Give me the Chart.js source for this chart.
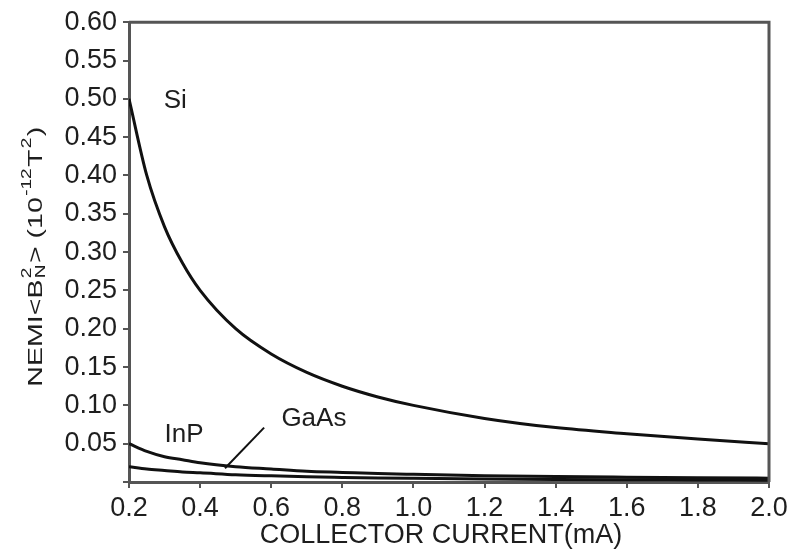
<!DOCTYPE html>
<html>
<head>
<meta charset="utf-8">
<script src="https://cdn.jsdelivr.net/npm/chart.js@4"></script>
<style>
  html, body { margin: 0; padding: 0; background: #fff; }
  #wrap { width: 792px; height: 556px; }
</style>
</head>
<body>
<div id="wrap"><canvas id="nemiChart" width="792" height="556"></canvas></div>
<script>
// collector current (mA) and NEMI values (10^-12 T^2)
const current = [0.2, 0.25, 0.3, 0.35, 0.4, 0.5, 0.6, 0.7, 0.8, 0.9, 1.0, 1.2, 1.4, 1.6, 1.8, 2.0];
const siVals = [0.500, 0.400, 0.333, 0.286, 0.250, 0.200, 0.167, 0.143, 0.125, 0.111, 0.100, 0.083, 0.071, 0.063, 0.056, 0.050];
const inpVals = [0.050, 0.040, 0.033, 0.029, 0.025, 0.020, 0.017, 0.014, 0.0125, 0.011, 0.010, 0.0083, 0.0071, 0.0063, 0.0056, 0.0050];
const gaasVals = [0.020, 0.017, 0.015, 0.013, 0.012, 0.0095, 0.0080, 0.0068, 0.0060, 0.0053, 0.0048, 0.0040, 0.0034, 0.0030, 0.0027, 0.0024];
const seriesNames = ['Si', 'InP', 'GaAs'];
const xTitle = 'COLLECTOR CURRENT(mA)';

const FONT = '"Liberation Sans", Arial, Helvetica, sans-serif';
const AXIS = '#555';
const INK = '#1e1e1e';

function pts(vals) {
    return current.map((c, i) => ({ x: c, y: vals[i] }));
}

function lineSet(label, vals) {
    return {
        label: label,
        data: pts(vals),
        borderColor: '#111',
        borderWidth: 3,
        pointRadius: 0,
        fill: false,
        cubicInterpolationMode: 'monotone'
    };
}

// text labels, pointer line, box and axis titles
const decorations = {
    id: 'decorations',
    afterDraw(chart) {
        const ctx = chart.ctx;
        const xs = chart.scales.x, ys = chart.scales.y;
        const a = chart.chartArea;
        ctx.save();

        // top and right frame
        ctx.strokeStyle = AXIS;
        ctx.lineWidth = 3;
        ctx.beginPath();
        ctx.moveTo(a.left, a.top);
        ctx.lineTo(a.right, a.top);
        ctx.lineTo(a.right, a.bottom);
        ctx.stroke();

        // curve labels
        ctx.fillStyle = INK;
        ctx.font = '26px ' + FONT;
        ctx.textAlign = 'center';
        ctx.textBaseline = 'middle';
        const spots = [[0.33, 0.497], [0.355, 0.061], [0.72, 0.083]];
        seriesNames.forEach((n, i) => {
            ctx.fillText(n, xs.getPixelForValue(spots[i][0]), ys.getPixelForValue(spots[i][1]));
        });

        // pointer from GaAs label to its curve
        ctx.strokeStyle = '#111';
        ctx.lineWidth = 2;
        ctx.beginPath();
        ctx.moveTo(xs.getPixelForValue(0.58), ys.getPixelForValue(0.071));
        ctx.lineTo(xs.getPixelForValue(0.47), ys.getPixelForValue(0.018));
        ctx.stroke();

        // x axis title
        ctx.font = '27px ' + FONT;
        ctx.fillText(xTitle, 441, 536);

        // y axis title, rotated and a little stretched like the original
        ctx.translate(42, 256);
        ctx.rotate(-Math.PI / 2);
        ctx.scale(1.36, 1);
        const big = '21px ' + FONT, small = '14px ' + FONT;
        const parts = [
            ['NEMI<B', big, 0],
            ['2', small, -11, 'N', 3],
            ['> (10', big, 0],
            ['-12', small, -11],
            ['T', big, 0],
            ['2', small, -11],
            [')', big, 0]
        ];
        let total = 0;
        parts.forEach(p => {
            ctx.font = p[1];
            let w = ctx.measureText(p[0]).width;
            if (p[3]) w = Math.max(w, ctx.measureText(p[3]).width);
            p.w = w + 1;
            total += p.w;
        });
        let x = -total / 2;
        ctx.textAlign = 'left';
        ctx.textBaseline = 'alphabetic';
        parts.forEach(p => {
            ctx.font = p[1];
            ctx.fillText(p[0], x, p[2]);
            if (p[3]) ctx.fillText(p[3], x, p[4]);
            x += p.w;
        });
        ctx.restore();
    }
};

new Chart(document.getElementById('nemiChart'), {
    type: 'line',
    data: {
        datasets: [lineSet('Si', siVals), lineSet('InP', inpVals), lineSet('GaAs', gaasVals)]
    },
    options: {
        responsive: false,
        animation: false,
        layout: { padding: { top: 21, right: 23, left: 0, bottom: 0 } },
        plugins: {
            legend: { display: false },
            tooltip: { enabled: false }
        },
        scales: {
            x: {
                type: 'linear',
                min: 0.2,
                max: 2.0,
                afterFit: (s) => { s.height = 74; },
                border: { display: true, color: AXIS, width: 3 },
                grid: { display: true, drawOnChartArea: false, drawTicks: true, tickLength: 6, color: AXIS, lineWidth: 2 },
                ticks: {
                    stepSize: 0.2,
                    color: INK,
                    padding: 4,
                    maxRotation: 0,
                    font: { family: FONT, size: 27 },
                    callback: (v) => v.toFixed(1)
                }
            },
            y: {
                min: 0,
                max: 0.6,
                afterFit: (s) => { s.width = 129; },
                border: { display: true, color: AXIS, width: 3 },
                grid: { display: true, drawOnChartArea: false, drawTicks: true, tickLength: 6, color: AXIS, lineWidth: 2 },
                ticks: {
                    stepSize: 0.05,
                    color: INK,
                    padding: 6,
                    font: { family: FONT, size: 27 },
                    callback: (v) => (v < 0.001 ? '' : v.toFixed(2))
                }
            }
        }
    },
    plugins: [decorations]
});
</script>
</body>
</html>
